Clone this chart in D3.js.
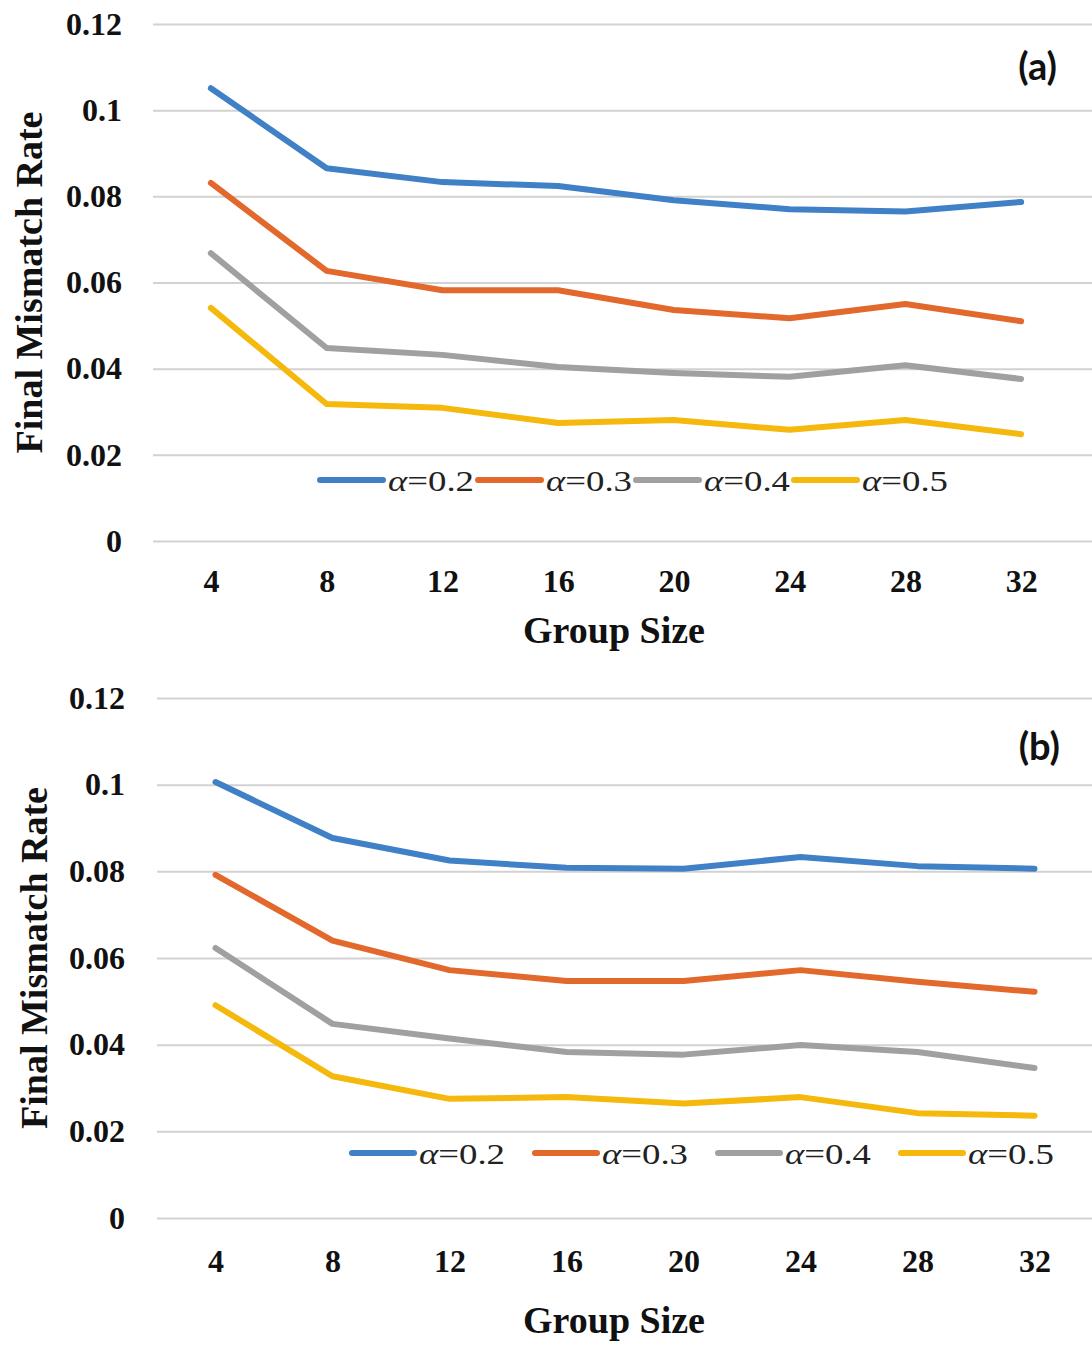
<!DOCTYPE html>
<html>
<head>
<meta charset="utf-8">
<script src="https://cdn.jsdelivr.net/npm/d3@7"></script>
<style>
  body { margin: 0; background: #fff; }
  svg { display: block; }
</style>
</head>
<body>
<svg id="chart" width="1092" height="1345"></svg>
<script>
// DATA
const groupSizes = [4, 8, 12, 16, 20, 24, 28, 32];
const alphaValues = ["0.2", "0.3", "0.4", "0.5"];
const yTicks = [0, 0.02, 0.04, 0.06, 0.08, 0.1, 0.12];
const yTickLabels = ["0", "0.02", "0.04", "0.06", "0.08", "0.1", "0.12"];

// panel (a)
const rateA02 = [0.1051, 0.0865, 0.0833, 0.0824, 0.0791, 0.0770, 0.0765, 0.0787];
const rateA03 = [0.0831, 0.0627, 0.0582, 0.0582, 0.0536, 0.0517, 0.0550, 0.0510];
const rateA04 = [0.0668, 0.0448, 0.0432, 0.0404, 0.0390, 0.0381, 0.0408, 0.0376];
const rateA05 = [0.0541, 0.0318, 0.0309, 0.0274, 0.0281, 0.0258, 0.0281, 0.0248];

// panel (b)
const rateB02 = [0.1006, 0.0877, 0.0825, 0.0808, 0.0806, 0.0833, 0.0812, 0.0806];
const rateB03 = [0.0792, 0.0640, 0.0572, 0.0547, 0.0547, 0.0572, 0.0545, 0.0522];
const rateB04 = [0.0623, 0.0448, 0.0414, 0.0383, 0.0377, 0.0399, 0.0383, 0.0346];
const rateB05 = [0.0491, 0.0327, 0.0275, 0.0279, 0.0264, 0.0279, 0.0242, 0.0236];

const colors = ["#3f80c6", "#e2682b", "#a0a0a0", "#f5b90d"];

// LAYOUT FOR EACH PANEL
const panels = [
  {
    label: "(a)", series: [rateA02, rateA03, rateA04, rateA05],
    left: 153, right: 1079, top: 24, bottom: 541,
    tickPad: 31, xTickY: 51, labelX: 1057, labelY: 80,
    yTitleX: 42, xTitleY: 643,
    legendX: 320, legendY: 480, legendStep: 158, legendLine: 63
  },
  {
    label: "(b)", series: [rateB02, rateB03, rateB04, rateB05],
    left: 157, right: 1093, top: 698, bottom: 1218,
    tickPad: 32, xTickY: 54, labelX: 1060, labelY: 760,
    yTitleX: 47, xTitleY: 1333,
    legendX: 352, legendY: 1153, legendStep: 183, legendLine: 62
  }
];

const svg = d3.select("#chart");
const serif = "'Liberation Serif', 'Times New Roman', serif";

panels.forEach(function (p) {
  const x = d3.scalePoint()
    .domain(groupSizes)
    .range([p.left, p.right])
    .padding(0.5);
  const y = d3.scaleLinear()
    .domain([0, 0.12])
    .range([p.bottom, p.top]);

  // GRIDLINES + Y AXIS
  const yAxis = svg.append("g")
    .attr("transform", "translate(" + p.left + ",0)")
    .call(d3.axisLeft(y)
      .tickValues(yTicks)
      .tickFormat(function (d, i) { return yTickLabels[i]; })
      .tickSize(-(p.right - p.left + 14))
      .tickPadding(p.tickPad));
  yAxis.select(".domain").remove();
  yAxis.selectAll(".tick line")
    .attr("stroke", "#d2d2d2")
    .attr("stroke-width", 2);
  yAxis.selectAll(".tick text")
    .attr("fill", "#111")
    .style("font-family", serif)
    .style("font-weight", "bold")
    .style("font-size", "32px");

  // X AXIS
  const xAxis = svg.append("g")
    .attr("transform", "translate(0," + p.bottom + ")")
    .call(d3.axisBottom(x).tickSize(0));
  xAxis.select(".domain").remove();
  xAxis.selectAll(".tick text")
    .attr("dy", null)
    .attr("y", p.xTickY)
    .attr("fill", "#111")
    .style("font-family", serif)
    .style("font-weight", "bold")
    .style("font-size", "32px");

  // AXIS TITLES
  svg.append("text")
    .attr("transform", "translate(" + p.yTitleX + "," + (p.top + p.bottom) / 2 + ") rotate(-90)")
    .attr("text-anchor", "middle")
    .style("font-family", serif)
    .style("font-weight", "bold")
    .style("font-size", "38px")
    .attr("fill", "#111")
    .text("Final Mismatch Rate");

  svg.append("text")
    .attr("x", 614)
    .attr("y", p.xTitleY)
    .attr("text-anchor", "middle")
    .style("font-family", serif)
    .style("font-weight", "bold")
    .style("font-size", "38px")
    .attr("fill", "#111")
    .text("Group Size");

  // PANEL LABEL
  svg.append("text")
    .attr("x", p.labelX)
    .attr("y", p.labelY)
    .attr("text-anchor", "end")
    .style("font-family", "Lato, 'Open Sans', sans-serif")
    .style("font-weight", "bold")
    .style("font-size", "38px")
    .attr("fill", "#111")
    .text(p.label);

  // LINES
  const line = d3.line()
    .x(function (d, i) { return x(groupSizes[i]); })
    .y(function (d) { return y(d); });

  p.series.forEach(function (s, k) {
    svg.append("path")
      .datum(s)
      .attr("d", line)
      .attr("fill", "none")
      .attr("stroke", colors[k])
      .attr("stroke-width", 6)
      .attr("stroke-linejoin", "round")
      .attr("stroke-linecap", "round");
  });

  // LEGEND (text is wide in the original, so stretch it)
  alphaValues.forEach(function (a, k) {
    const g = svg.append("g")
      .attr("transform", "translate(" + (p.legendX + k * p.legendStep) + "," + p.legendY + ")");
    g.append("line")
      .attr("x1", 0).attr("x2", p.legendLine)
      .attr("y1", 0).attr("y2", 0)
      .attr("stroke", colors[k])
      .attr("stroke-width", 6)
      .attr("stroke-linecap", "round");
    const t = g.append("text")
      .attr("x", p.legendLine + 5)
      .attr("y", 11)
      .attr("textLength", 86)
      .attr("lengthAdjust", "spacingAndGlyphs")
      .style("font-family", serif)
      .style("font-size", "30px")
      .attr("fill", "#222");
    t.append("tspan").style("font-style", "italic").text("α");
    t.append("tspan").text("=" + a);
  });
});
</script>
</body>
</html>
